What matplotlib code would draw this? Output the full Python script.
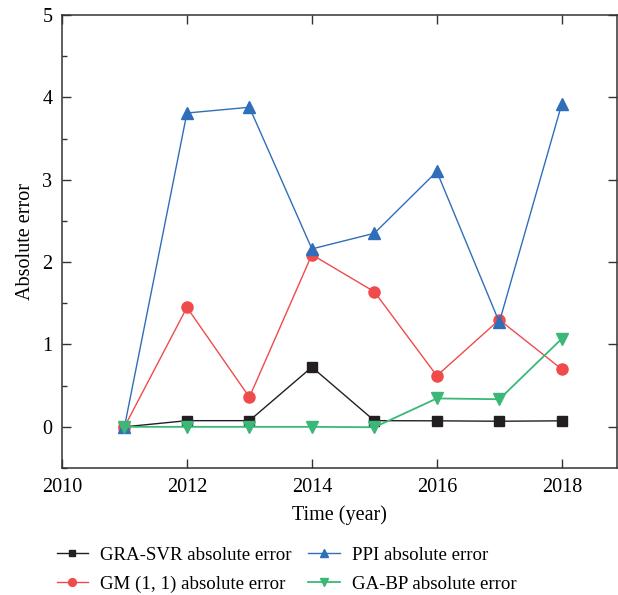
import matplotlib
matplotlib.use("Agg")
import matplotlib.pyplot as plt
from matplotlib.ticker import MultipleLocator

years = [2011, 2012, 2013, 2014, 2015, 2016, 2017, 2018]
gra_svr = [0.0, 0.075, 0.075, 0.725, 0.075, 0.073, 0.068, 0.073]
gm11 = [0.0, 1.45, 0.36, 2.09, 1.64, 0.62, 1.30, 0.70]
ppi = [0.0, 3.81, 3.88, 2.16, 2.35, 3.10, 1.27, 3.92]
ga_bp = [0.0, 0.0, 0.0, 0.0, -0.005, 0.345, 0.335, 1.07]

labels = ["GRA-SVR absolute error", "GM (1, 1) absolute error",
          "PPI absolute error", "GA-BP absolute error"]

plt.rcParams['font.family'] = ['Liberation Serif', 'DejaVu Serif']
plt.rcParams['mathtext.fontset'] = 'stix'

fig = plt.figure(figsize=(6.18, 5.95), dpi=100)
ax = fig.add_axes([0.1003, 0.2134, 0.8977, 0.7614])

l1, = ax.plot(years, gra_svr, color='#231f20', lw=1.0, marker='s', ms=6.5, label=labels[0])
l2, = ax.plot(years, gm11, color='#ef4b4b', lw=1.0, marker='o', ms=8, label=labels[1])
l3, = ax.plot(years, ppi, color='#2f6fb9', lw=1.0, marker='^', ms=9, label=labels[2])
l4, = ax.plot(years, ga_bp, color='#3bb878', lw=1.3, marker='v', ms=9, label=labels[3])

ax.set_xlim(2010, 2018.88)
ax.set_ylim(-0.5, 5)
ax.xaxis.set_major_locator(MultipleLocator(2))
ax.yaxis.set_major_locator(MultipleLocator(1))
ax.yaxis.set_minor_locator(MultipleLocator(0.5))
ax.tick_params(which='major', direction='in', top=True, right=True,
               labelsize=14.5, color='#333333', width=1.0, length=6.5, pad=7)
ax.tick_params(which='minor', direction='in', left=True, right=False,
               color='#333333', width=1.0, length=3.5)
for s in ax.spines.values():
    s.set_linewidth(1.1)
    s.set_color('#333333')

ax.set_xlabel('Time (year)', fontsize=14.5, labelpad=6)
ax.set_ylabel('Absolute error', fontsize=14.5, labelpad=5)

fig.legend(handles=[l1, l2, l3, l4], ncol=2, frameon=False, fontsize=13.6,
           loc='upper left', bbox_to_anchor=(0.064, 0.11),
           handlelength=1.65, columnspacing=0.9, handletextpad=0.65,
           labelspacing=0.62, markerscale=0.7)

fig.savefig('out.png', dpi=100)
